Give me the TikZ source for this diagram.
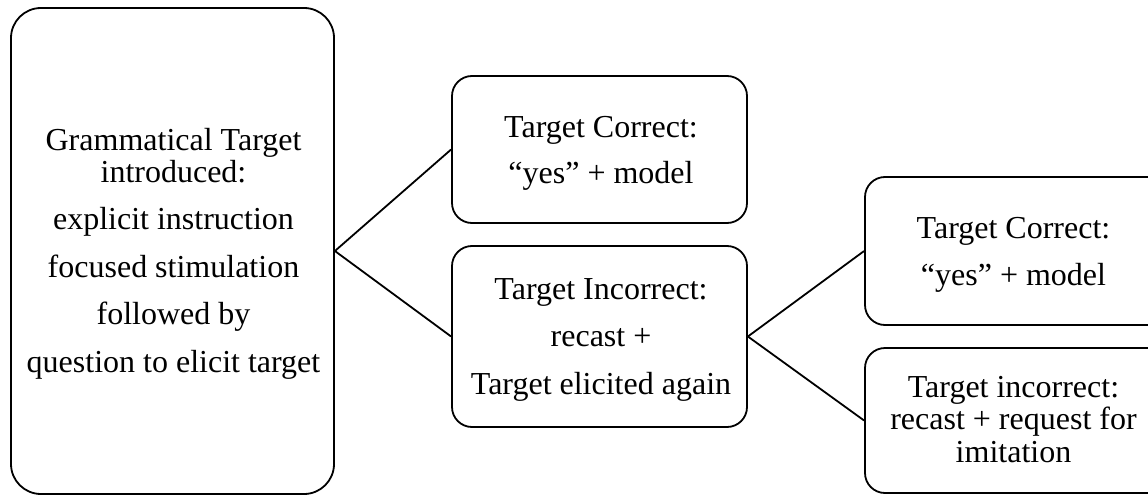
\documentclass[tikz,border=0pt]{standalone}
\usepackage{fontspec}
\setmainfont{Liberation Serif}
\begin{document}
\begin{tikzpicture}[x=1pt,y=-1pt,
  stepbox/.style={draw=black, line width=1.8pt, rectangle, inner sep=0pt,
    rounded corners=#1},
  stepbox/.default=20pt,
  boxtext/.style={anchor=base, inner sep=0pt, font=\fontsize{32}{47.5}\selectfont},
  tighttext/.style={anchor=base, inner sep=0pt, font=\fontsize{32}{32.5}\selectfont},
  link/.style={draw=black, line width=1.8pt}]
  \useasboundingbox (0,0) rectangle (1148,495);
  \fill[white] (0,0) rectangle (1148,495);
  \clip (0,0) rectangle (1148,495);

  % boxes
  \node[stepbox=30pt, minimum width=323pt, minimum height=486pt] (intro) at (172.5,251) {};
  \node[stepbox, minimum width=295pt, minimum height=147pt] (corr1) at (599.5,149.5) {};
  \node[stepbox, minimum width=295pt, minimum height=181pt] (incorr1) at (599.5,336.5) {};
  \node[stepbox, minimum width=330pt, minimum height=148pt] (corr2) at (1030,251) {};
  \node[stepbox, minimum width=330pt, minimum height=145pt] (incorr2) at (1030,420.5) {};

  % box texts
  \node[boxtext] (introtxt) at (173.5,150) {\begin{tabular}[t]{@{}c@{}}
    Grammatical Target\\[-15.5pt]
    introduced:\\
    explicit instruction\\
    focused stimulation\\
    followed by\\
    question to elicit target\end{tabular}};
  \node[boxtext] (corr1txt) at (601,137) {\begin{tabular}[t]{@{}c@{}}
    Target Correct:\\[-1.5pt]
    “yes” + model\end{tabular}};
  \node[boxtext] (incorr1txt) at (601,299) {\begin{tabular}[t]{@{}c@{}}
    Target Incorrect:\\
    recast +\\
    Target elicited again\end{tabular}};
  \node[boxtext] (corr2txt) at (1013.5,238) {\begin{tabular}[t]{@{}c@{}}
    Target Correct:\\
    “yes” + model\end{tabular}};
  \node[tighttext] (incorr2txt) at (1013.5,397) {\begin{tabular}[t]{@{}c@{}}
    Target incorrect:\\
    recast + request for\\
    imitation\end{tabular}};

  % connectors
  \draw[link] (intro.east) -- (corr1.west);
  \draw[link] (intro.east) -- (incorr1.west);
  \draw[link] (incorr1.east) -- (corr2.west);
  \draw[link] (incorr1.east) -- (incorr2.west);
\end{tikzpicture}
\end{document}
